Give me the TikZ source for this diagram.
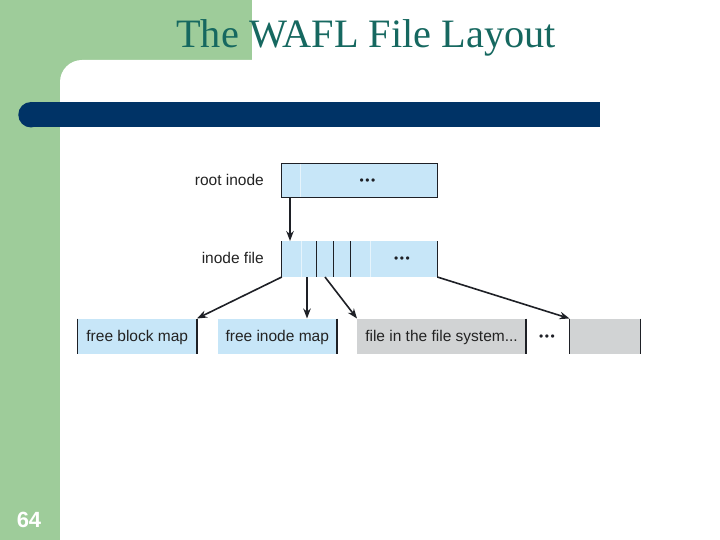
\documentclass[tikz,border=0pt]{standalone}
\usepackage{fontspec}
\setmainfont{Liberation Serif}
\setsansfont{Liberation Sans}
\usetikzlibrary{arrows.meta}
\definecolor{slidegreen}{RGB}{158,204,154}
\definecolor{barblue}{RGB}{0,51,102}
\definecolor{titleteal}{RGB}{22,104,96}
\definecolor{cellblue}{RGB}{199,230,248}
\definecolor{cellgray}{RGB}{209,211,212}
\definecolor{linedark}{RGB}{30,32,38}
\definecolor{textdark}{RGB}{35,35,35}
\begin{document}
\begin{tikzpicture}[x=1pt,y=-1pt,
  cell/.style={draw=none, inner sep=0pt, outer sep=0pt, anchor=north west},
  lbl/.style={font=\sffamily\fontsize{15.5}{18}\selectfont, text=textdark, inner sep=0pt},
  dots/.style={font=\sffamily\fontsize{12}{13}\selectfont, text=linedark, inner sep=0pt},
  sep/.style={draw=linedark, line width=1.1pt},
  faint/.style={draw=white!55!cellblue, line width=0.8pt},
  conn/.style={draw=linedark, line width=1.6pt, -{Stealth[length=10pt,width=7.5pt]}}
]
\useasboundingbox (0,0) rectangle (720,540);
% slide background
\fill[white] (0,0) rectangle (720,540);
\fill[slidegreen] (0,0) rectangle (252,90);
\fill[slidegreen] (0,0) rectangle (90,540);
\fill[white, rounded corners=22] (60,60) rectangle (760,580);
% title bar
\fill[barblue] (31,102) rectangle (600,127.5);
\fill[barblue] (31,114.75) circle[radius=12.75];
% title and page number
\node[font=\fontsize{40.3}{48}\selectfont, text=titleteal, anchor=base, inner sep=0pt] (title) at (366,48) {The WAFL File Layout};
\node[font=\sffamily\bfseries\fontsize{22}{26}\selectfont, text=white, anchor=base, inner sep=0pt] (pagenum) at (29,527) {64};

% root inode
\node[cell, fill=cellblue, draw=linedark, line width=1pt, minimum width=155.5, minimum height=34.5] (root) at (281.8,163.3) {};
\draw[faint] (300,164) -- (300,197);
\node[dots] (rootdots) at (367.5,181.5) {\textbullet\hspace{1.5pt}\textbullet\hspace{1.5pt}\textbullet};
\node[lbl, anchor=base east] (rootlbl) at (264,186) {root inode};

% inode file
\node[cell, fill=cellblue, minimum width=155.5, minimum height=36] (inodefile) at (281.8,241) {};
\draw[faint] (301.5,241) -- (301.5,277);
\draw[faint] (370,241) -- (370,277);
\draw[sep] (inodefile.north west) -- (inodefile.south west);
\draw[sep] (inodefile.north east) -- (inodefile.south east);
\draw[sep] (316.5,241) -- (316.5,277);
\draw[sep] (333.3,241) -- (333.3,277);
\draw[sep] (350.5,241) -- (350.5,277);
\node[dots] (inodedots) at (402,259.5) {\textbullet\hspace{1.5pt}\textbullet\hspace{1.5pt}\textbullet};
\node[lbl, anchor=base east] (inodelbl) at (264,263.5) {inode file};

% bottom row
\node[cell, fill=cellblue, minimum width=119.5, minimum height=35] (fbm) at (77.5,318.5) {};
\node[lbl, anchor=base] (fbmlbl) at ([yshift=-5.5pt]fbm.center) {free block map};
\draw[sep] (fbm.north west) -- (fbm.south west);
\draw[sep] (fbm.north east) -- (fbm.south east);

\node[cell, fill=cellblue, minimum width=119.5, minimum height=35] (fim) at (217.5,318.5) {};
\node[lbl, anchor=base] (fimlbl) at ([yshift=-5.5pt]fim.center) {free inode map};
\draw[sep] (fim.north east) -- (fim.south east);

\node[cell, fill=cellgray, minimum width=169, minimum height=35] (file) at (357,318.5) {};
\node[lbl, anchor=base] (filelbl) at ([yshift=-5.5pt]file.center) {file in the file system...};
\draw[sep] (file.north east) -- (file.south east);

\node[dots] (rowdots) at (547,337.5) {\textbullet\hspace{1.5pt}\textbullet\hspace{1.5pt}\textbullet};

\node[cell, fill=cellgray, minimum width=71, minimum height=35] (lastfile) at (569.5,318.5) {};
\draw[sep] (lastfile.north west) -- (lastfile.south west);
\draw[sep] (lastfile.north east) -- (lastfile.south east);

% connectors
\coordinate (rootout) at (290,197.8);
\coordinate (rootin) at (290,241);
\coordinate (out1) at (inodefile.south west);
\coordinate (out2) at (307,277);
\coordinate (out3) at (325,277);
\coordinate (out4) at (inodefile.south east);
\coordinate (in2) at (307,318.5);
\draw[conn] (rootout) -- (rootin);
\draw[conn] (out1) -- (fbm.north east);
\draw[conn] (out2) -- (in2);
\draw[conn] (out3) -- (file.north west);
\draw[conn] (out4) -- (lastfile.north west);
\end{tikzpicture}
\end{document}
